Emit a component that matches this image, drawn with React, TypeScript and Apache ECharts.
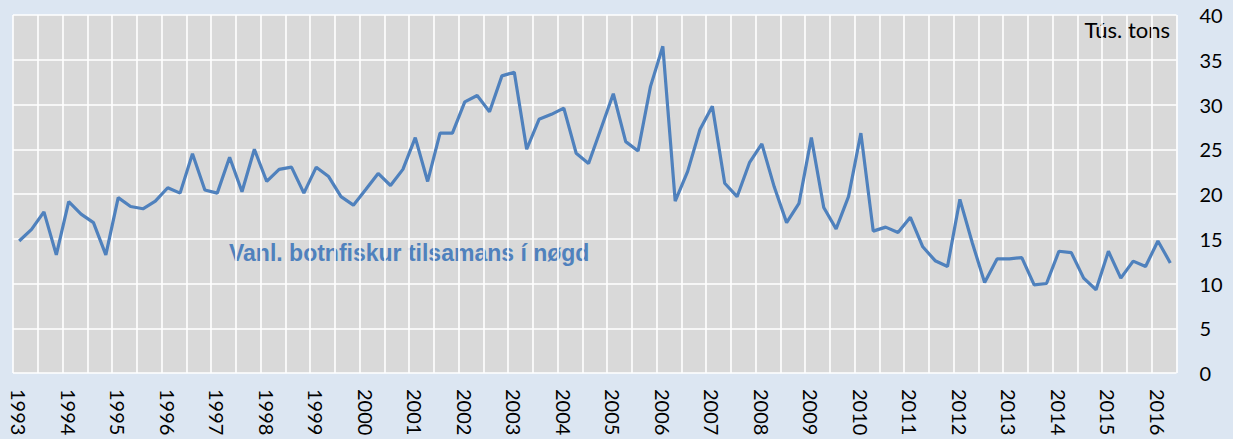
import React, { useEffect, useRef } from 'react';
import * as echarts from 'echarts';

// Years on the category axis (quarterly data, 1993 Q1 – 2016 Q2)
const years = [1993, 1994, 1995, 1996, 1997, 1998, 1999, 2000, 2001, 2002, 2003, 2004,
  2005, 2006, 2007, 2008, 2009, 2010, 2011, 2012, 2013, 2014, 2015, 2016];
const quarters = ['Q1', 'Q2', 'Q3', 'Q4'];
const categories = years.flatMap((y) => quarters.map((q) => `${y} ${q}`)).slice(0, 94);

// Quarterly landings, thousand tons
const values = [
  14.75, 16.05, 18.0, 13.2, 19.15, 17.75, 16.8, 13.2, 19.6, 18.6, 18.35, 19.2, 20.7, 20.1, 24.5, 20.45,
  20.1, 24.1, 20.25, 25.0, 21.4, 22.75, 23.0, 20.1, 23.0, 21.95, 19.7, 18.75, 20.5, 22.3, 20.95,
  22.75, 26.3, 21.4, 26.8, 26.8, 30.3, 31.0, 29.2, 33.2, 33.6, 25.0, 28.35, 28.9, 29.6, 24.55, 23.4,
  27.3, 31.2, 25.85, 24.8, 32.0, 36.5, 19.2, 22.5, 27.2, 29.8, 21.2, 19.7, 23.5, 25.6,
  20.8, 16.8, 18.95, 26.3, 18.5, 16.1, 19.7, 26.8, 15.85, 16.3, 15.7, 17.4, 14.1, 12.55, 11.9, 19.4,
  14.55, 10.1, 12.75, 12.75, 12.9, 9.85, 10.0, 13.6, 13.45, 10.6, 9.3, 13.6, 10.6, 12.5, 11.9, 14.75, 12.3,
];

// Value axis ticks
const yMin = 0;
const yMax = 40;
const yStep = 5;

const unitLabel = 'Tús. tons';
const seriesLabel = 'Vanl. botnfiskur tilsamans í nøgd';

const LINE_COLOR = '#4f81bd';
const FONT = 'Lato';

export default function App() {
  const ref = useRef<HTMLDivElement>(null);

  useEffect(() => {
    if (!ref.current) return;
    const chart = echarts.init(ref.current, undefined, { renderer: 'svg' });
    chart.setOption({
      animation: false,
      backgroundColor: '#dce6f2',
      grid: {
        left: 13,
        right: 56.5,
        top: 15,
        bottom: 66,
        show: true,
        backgroundColor: '#d9d9d9',
        borderWidth: 0,
      },
      xAxis: {
        type: 'category',
        data: categories,
        boundaryGap: true,
        axisLine: { show: false },
        axisTick: { show: false },
        axisLabel: {
          interval: 3,
          rotate: -90,
          margin: 16,
          formatter: (v: string) => v.slice(0, 4),
          fontFamily: FONT,
          fontSize: 20,
          color: '#000',
        },
        splitLine: { show: true, interval: 1, lineStyle: { color: '#ffffff', width: 1.6 } },
      },
      yAxis: {
        type: 'value',
        position: 'right',
        min: yMin,
        max: yMax,
        interval: yStep,
        axisLine: { show: false },
        axisTick: { show: false },
        axisLabel: {
          margin: 23,
          align: 'left',
          fontFamily: FONT,
          fontSize: 20,
          color: '#000',
        },
        splitLine: { show: true, lineStyle: { color: '#ffffff', width: 1.6 } },
      },
      series: [
        {
          type: 'line',
          data: values,
          symbol: 'none',
          showSymbol: false,
          lineStyle: { color: LINE_COLOR, width: 3.2 },
          itemStyle: { color: LINE_COLOR },
        },
      ],
      graphic: [
        {
          type: 'text',
          x: 1170,
          y: 29,
          style: {
            text: unitLabel,
            align: 'right',
            verticalAlign: 'middle',
            font: `22px ${FONT}`,
            fill: '#000',
          },
        },
        {
          type: 'text',
          x: 229,
          y: 253,
          style: {
            text: seriesLabel,
            align: 'left',
            verticalAlign: 'middle',
            font: `bold 23px "Liberation Sans"`,
            fill: LINE_COLOR,
          },
        },
      ],
    });
    return () => chart.dispose();
  }, []);

  return (
    <div
      ref={ref}
      style={{ position: 'fixed', left: 0, top: 0, width: 1233, height: 439 }}
    />
  );
}
